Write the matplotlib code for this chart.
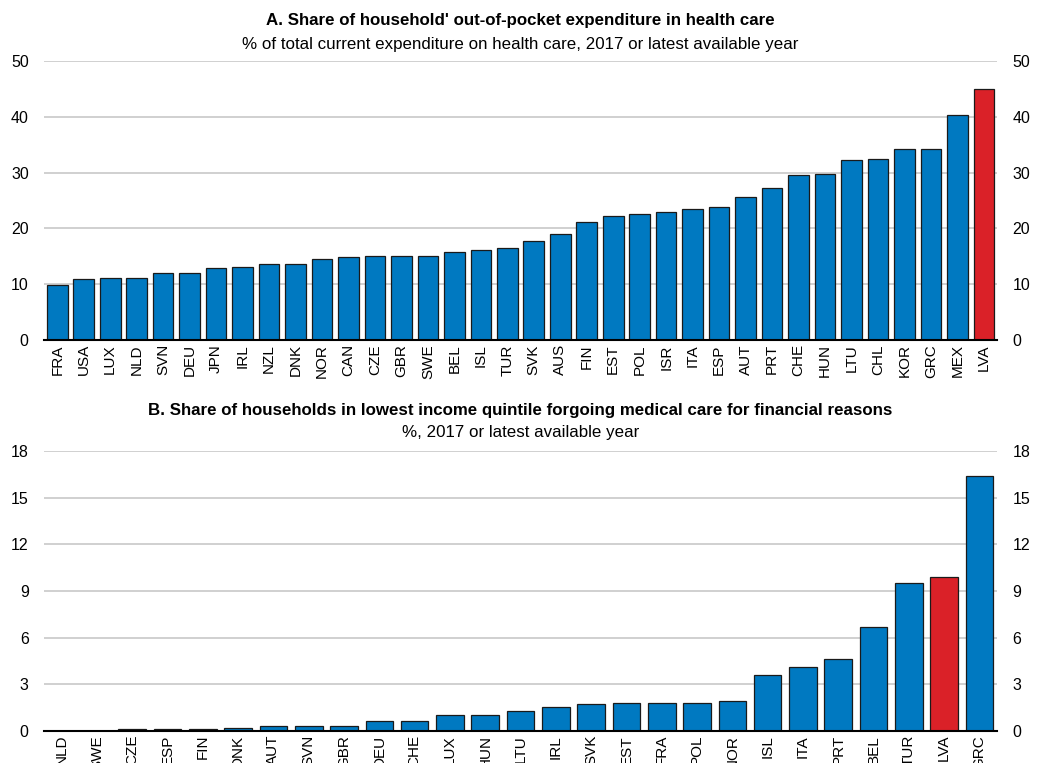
import numpy as np
import matplotlib
matplotlib.use('Agg')
import matplotlib.pyplot as plt

plt.rcParams['font.family'] = ['Liberation Sans', 'DejaVu Sans']

# Panel A: out-of-pocket share of health expenditure
countries_a = ['FRA', 'USA', 'LUX', 'NLD', 'SVN', 'DEU', 'JPN', 'IRL', 'NZL', 'DNK',
               'NOR', 'CAN', 'CZE', 'GBR', 'SWE', 'BEL', 'ISL', 'TUR', 'SVK', 'AUS',
               'FIN', 'EST', 'POL', 'ISR', 'ITA', 'ESP', 'AUT', 'PRT', 'CHE', 'HUN',
               'LTU', 'CHL', 'KOR', 'GRC', 'MEX', 'LVA']
values_a = [9.8, 11.0, 11.2, 11.2, 12.0, 12.0, 12.9, 13.0, 13.6, 13.7,
            14.6, 14.8, 15.0, 15.1, 15.1, 15.8, 16.2, 16.4, 17.8, 19.0,
            21.1, 22.3, 22.5, 23.0, 23.5, 23.8, 25.6, 27.2, 29.5, 29.7,
            32.3, 32.5, 34.3, 34.3, 40.4, 45.0]

# Panel B: lowest income quintile forgoing care
countries_b = ['NLD', 'SWE', 'CZE', 'ESP', 'FIN', 'DNK', 'AUT', 'SVN', 'GBR', 'DEU',
               'CHE', 'LUX', 'HUN', 'LTU', 'IRL', 'SVK', 'EST', 'FRA', 'POL', 'NOR',
               'ISL', 'ITA', 'PRT', 'BEL', 'TUR', 'LVA', 'GRC']
values_b = [0.0, 0.0, 0.1, 0.1, 0.1, 0.2, 0.3, 0.3, 0.3, 0.6,
            0.6, 1.0, 1.0, 1.3, 1.5, 1.7, 1.8, 1.8, 1.8, 1.9,
            3.6, 4.1, 4.6, 6.7, 9.5, 9.9, 16.4]

BLUE = '#0079C1'
RED = '#DA2128'
GRID = '#C8C8C8'

fig = plt.figure(figsize=(10.43, 7.63), dpi=100)
ax_a = fig.add_axes([0.0422, 0.5544, 0.9138, 0.3656])
ax_b = fig.add_axes([0.0422, 0.0423, 0.9138, 0.3662])


def draw_panel(ax, cats, vals, ymax, step, title, subtitle, title_y, sub_y):
    colors = [RED if c == 'LVA' else BLUE for c in cats]
    x = np.arange(len(cats))
    ax.bar(x, vals, width=0.78, color=colors, edgecolor='#1a1a1a', linewidth=0.9, zorder=3)
    ax.set_xlim(-0.5, len(cats) - 0.5)
    ax.set_ylim(0, ymax)
    ticks = np.arange(0, ymax + step, step)
    ax.set_yticks(ticks)
    ax.set_yticklabels([str(int(t)) for t in ticks])
    ax.yaxis.grid(True, color=GRID, linewidth=1.2, zorder=0)
    ax.set_axisbelow(True)
    ax.set_xticks(x)
    ax.set_xticklabels(cats, rotation=90, fontsize=11)
    ax.tick_params(axis='x', length=0, pad=3)
    ax.tick_params(axis='y', length=0, pad=11, labelsize=11.5,
                   right=True, labelright=True, left=True, labelleft=True)
    for s in ['left', 'right', 'top']:
        ax.spines[s].set_visible(False)
    ax.spines['bottom'].set_color('black')
    ax.spines['bottom'].set_linewidth(1.5)
    ax.spines['bottom'].set_zorder(4)
    fig.text(0.499, title_y, title, ha='center', va='center', fontsize=12.2, fontweight='bold')
    fig.text(0.499, sub_y, subtitle, ha='center', va='center', fontsize=12.2)


draw_panel(ax_a, countries_a, values_a, 50, 10,
           "A. Share of household' out-of-pocket expenditure in health care",
           '% of total current expenditure on health care, 2017 or latest available year',
           1 - 21 / 763, 1 - 44 / 763)
draw_panel(ax_b, countries_b, values_b, 18, 3,
           'B. Share of households in lowest income quintile forgoing medical care for financial reasons',
           '%, 2017 or latest available year',
           1 - 410 / 763, 1 - 432 / 763)

fig.savefig('out.png', dpi=100)
